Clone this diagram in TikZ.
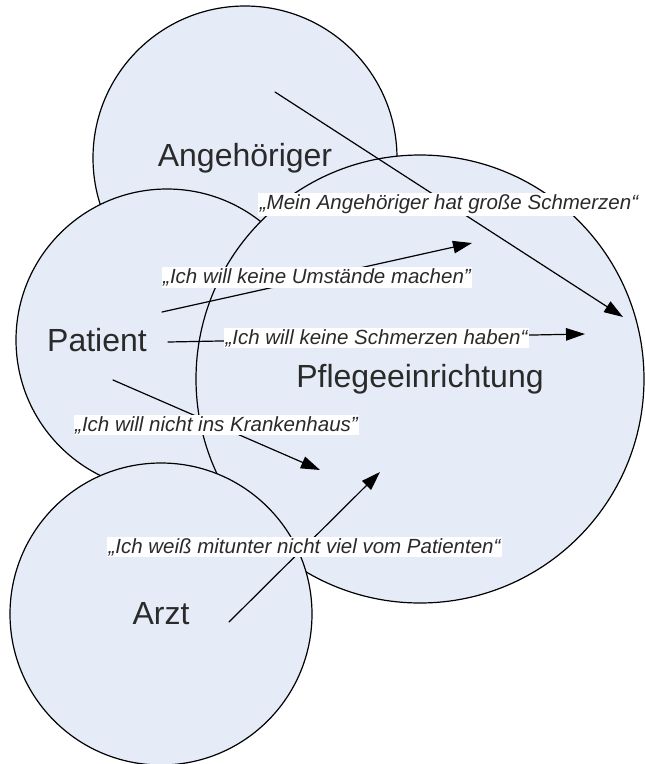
\documentclass[tikz,border=0pt]{standalone}
\usepackage{fontspec}
\setmainfont{Liberation Sans}
\usetikzlibrary{arrows.meta}

\definecolor{zonefill}{HTML}{E5ECF7}
\definecolor{inktext}{HTML}{2A2A2A}

\begin{document}
\begin{tikzpicture}[x=1pt, y=-1pt, line width=1.2pt, line cap=round, line join=round,
  zone/.style={circle, draw, fill=zonefill, inner sep=0pt, outer sep=0pt,
               text=inktext, font=\fontsize{32}{38}\selectfont},
  zonename/.style={inner sep=0pt, text=inktext, font=\fontsize{32}{38}\selectfont},
  quote/.style={fill=white, inner sep=1.5pt, text=inktext,
                font=\itshape\fontsize{20.5}{24}\selectfont},
  say/.style={-{Triangle[length=19pt,width=12.5pt]}}]

  %% ════ 圆（先画的在下面）════
  \node[zone, minimum size=304pt] (ang)  at (245,158) {Angehöriger};
  \node[zone, minimum size=302pt] (pat)  at (167,340) {};
  \node[zone, minimum size=448pt] (pfl)  at (420,379) {Pflegeeinrichtung};
  \node[zone, minimum size=302pt] (arzt) at (161,614) {Arzt};

  %% Patient 的名字不在圆心
  \node[zonename] (patname) at (97,340) {Patient};

  %% ════ 箭头端点 ════
  \coordinate (angS) at (275,92);  \coordinate (angE) at (623,317);
  \coordinate (umS)  at (162,312); \coordinate (umE)  at (472,243);
  \coordinate (schS) at (168,342); \coordinate (schE) at (585,334);
  \coordinate (krS)  at (113,380); \coordinate (krE)  at (320,470);
  \coordinate (arS)  at (229,622); \coordinate (arE)  at (380,472);

  %% ════ 箭头 + 引语（标签在线中点，白底盖住线）════
  \draw[say] (angS) -- node[quote] (qang) {„Mein Angehöriger hat große Schmerzen“} (angE);
  \draw[say] (umS)  -- node[quote] (qum)  {„Ich will keine Umstände machen"} (umE);
  \draw[say] (schS) -- node[quote] (qsch) {„Ich will keine Schmerzen haben“} (schE);
  \draw[say] (krS)  -- node[quote] (qkr)  {„Ich will nicht ins Krankenhaus"} (krE);
  \draw[say] (arS)  -- node[quote] (qar)  {„Ich weiß mitunter nicht viel vom Patienten“} (arE);

  % 钉死画布
  \pgfresetboundingbox
  \path[use as bounding box] (0,0) rectangle (645,764);
\end{tikzpicture}
\end{document}
